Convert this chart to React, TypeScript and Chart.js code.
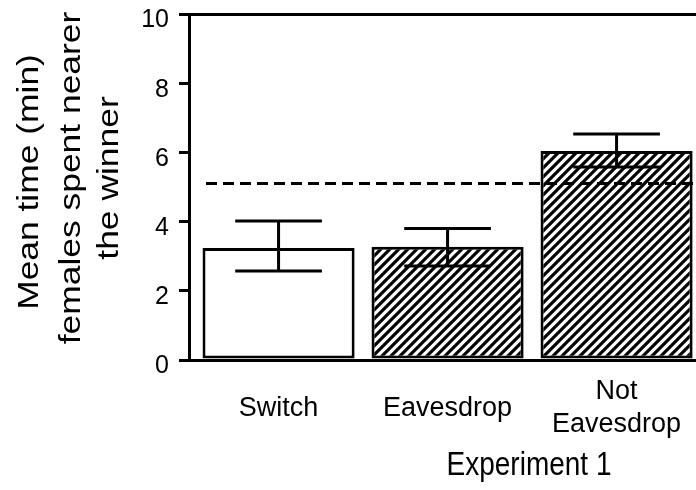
import React, { useEffect, useRef } from "react";
import { Chart, registerables } from "chart.js";

Chart.register(...registerables);

// Groups and their mean times (min), with the ends of the error bars
const categories: (string | string[])[] = ["Switch", "Eavesdrop", ["Not", "Eavesdrop"]];
const meanTime = [3.24, 3.27, 6.04];
const errorHigh = [4.02, 3.8, 6.53];
const errorLow = [2.57, 2.72, 5.58];
const chanceLevel = 5.1;
const yTickValues = [0, 2, 4, 6, 8, 10];
const yTitleLines = ["Mean time (min)", "females spent nearer", "the winner"];
const xTitle = "Experiment 1";

const FONT = "'Liberation Sans', Arial, Helvetica, sans-serif";
// the lettering is drawn slightly elongated on the page's vertical axis
const TEXT_STRETCH = 1.18;

function makeHatch(): CanvasPattern | string {
  const size = 9;
  const c = document.createElement("canvas");
  c.width = size;
  c.height = size;
  const g = c.getContext("2d");
  if (!g) return "#888";
  g.fillStyle = "#fff";
  g.fillRect(0, 0, size, size);
  g.strokeStyle = "#000";
  g.lineWidth = 3.2;
  g.beginPath();
  g.moveTo(-1, size + 1);
  g.lineTo(size + 1, -1);
  g.moveTo(-size / 2 - 1, size / 2 + 1);
  g.lineTo(size / 2 + 1, -size / 2 - 1);
  g.moveTo(size / 2 - 1, size * 1.5 + 1);
  g.lineTo(size * 1.5 + 1, size / 2 - 1);
  g.stroke();
  return g.createPattern(c, "repeat") || "#888";
}

// Chance line and error bars, drawn over the bars
const overlayPlugin = {
  id: "overlay",
  afterDatasetsDraw(chart: any) {
    const { ctx, chartArea, scales } = chart;
    const y = scales.y;
    ctx.save();
    ctx.strokeStyle = "#000";
    ctx.lineWidth = 3;
    ctx.setLineDash([11, 6]);
    const yc = y.getPixelForValue(chanceLevel);
    ctx.beginPath();
    ctx.moveTo(chartArea.left + 17, yc);
    ctx.lineTo(chartArea.right, yc);
    ctx.stroke();
    ctx.setLineDash([]);
    const meta = chart.getDatasetMeta(0);
    meta.data.forEach((bar: any, i: number) => {
      const x = bar.x;
      const half = bar.width * 0.285;
      const yh = y.getPixelForValue(errorHigh[i]);
      const yl = y.getPixelForValue(errorLow[i]);
      ctx.beginPath();
      ctx.moveTo(x, yh);
      ctx.lineTo(x, yl);
      ctx.moveTo(x - half, yh);
      ctx.lineTo(x + half, yh);
      ctx.moveTo(x - half, yl);
      ctx.lineTo(x + half, yl);
      ctx.stroke();
    });
    ctx.restore();
  },
};

// Axis titles
const titlesPlugin = {
  id: "titles",
  afterDraw(chart: any) {
    const { ctx } = chart;
    ctx.save();
    ctx.fillStyle = "#000";
    ctx.font = `30px ${FONT}`;
    ctx.textBaseline = "alphabetic";
    ctx.textAlign = "center";
    const rows = [
      { x: 38, y: 182 },
      { x: 80, y: 178 },
      { x: 118, y: 178 },
    ];
    yTitleLines.forEach((line, i) => {
      const r = rows[i];
      ctx.save();
      ctx.translate(r.x, r.y);
      ctx.rotate(-Math.PI / 2);
      ctx.scale(TEXT_STRETCH, 1);
      ctx.fillText(line, 0, 0);
      ctx.restore();
    });
    ctx.save();
    ctx.font = `28px ${FONT}`;
    ctx.textBaseline = "middle";
    ctx.translate(529, 466);
    ctx.scale(1, TEXT_STRETCH);
    ctx.fillText(xTitle, 0, 0);
    ctx.restore();
    ctx.restore();
  },
};

export default function App() {
  const canvasRef = useRef<HTMLCanvasElement | null>(null);

  useEffect(() => {
    const canvas = canvasRef.current;
    if (!canvas) return;
    const hatch = makeHatch();
    const chart = new Chart(canvas, {
      type: "bar",
      data: {
        datasets: [
          {
            data: meanTime.map((v, i) => ({ x: i, y: v })),
            backgroundColor: ["#ffffff", hatch, hatch],
            borderColor: "#000",
            borderWidth: 3,
            borderSkipped: false,
            barPercentage: 0.9,
            categoryPercentage: 1,
          },
        ],
      },
      options: {
        animation: false,
        responsive: true,
        maintainAspectRatio: false,
        layout: { padding: { top: 14, left: 0, right: 0, bottom: 0 } },
        plugins: { legend: { display: false }, tooltip: { enabled: false } },
        scales: {
          x: {
            type: "linear",
            min: -0.53,
            max: 2.47,
            offset: false,
            afterBuildTicks: (axis: any) => {
              axis.ticks = categories.map((_, i) => ({ value: i }));
            },
            afterFit: (axis: any) => {
              axis.height = 130;
              axis.paddingLeft = 0;
              axis.paddingRight = 0;
            },
            grid: { display: false, drawTicks: false, offset: false },
            border: { display: true, color: "#000", width: 3 },
            ticks: {
              maxRotation: 0,
              autoSkip: false,
              crossAlign: "center",
              padding: 32,
              color: "#000",
              font: { family: FONT, size: 27, lineHeight: "33px" as any },
              callback: (v: any) => categories[Number(v)] ?? "",
            },
          },
          y: {
            min: 0,
            max: 10,
            afterBuildTicks: (axis: any) => {
              axis.ticks = yTickValues.map((v) => ({ value: v }));
            },
            afterFit: (axis: any) => {
              axis.width = 189;
              axis.paddingTop = 0;
              axis.paddingBottom = 0;
            },
            grid: {
              drawOnChartArea: true,
              color: (c: any) => (c.tick && c.tick.value === 10 ? "#000" : "rgba(0,0,0,0)"),
              tickColor: "#000",
              tickLength: 10,
              lineWidth: 3,
            },
            border: { display: true, color: "#000", width: 3 },
            ticks: {
              padding: 10,
              color: "#000",
              font: { family: FONT, size: 25, lineHeight: "13px" as any },
              callback: (v: any) => ["", String(v)],
            },
          },
        },
      },
      plugins: [overlayPlugin, titlesPlugin],
    });
    return () => chart.destroy();
  }, []);

  return (
    <div style={{ position: "absolute", left: 0, top: 0, width: 696, height: 490, background: "#fff" }}>
      <canvas ref={canvasRef} />
    </div>
  );
}
